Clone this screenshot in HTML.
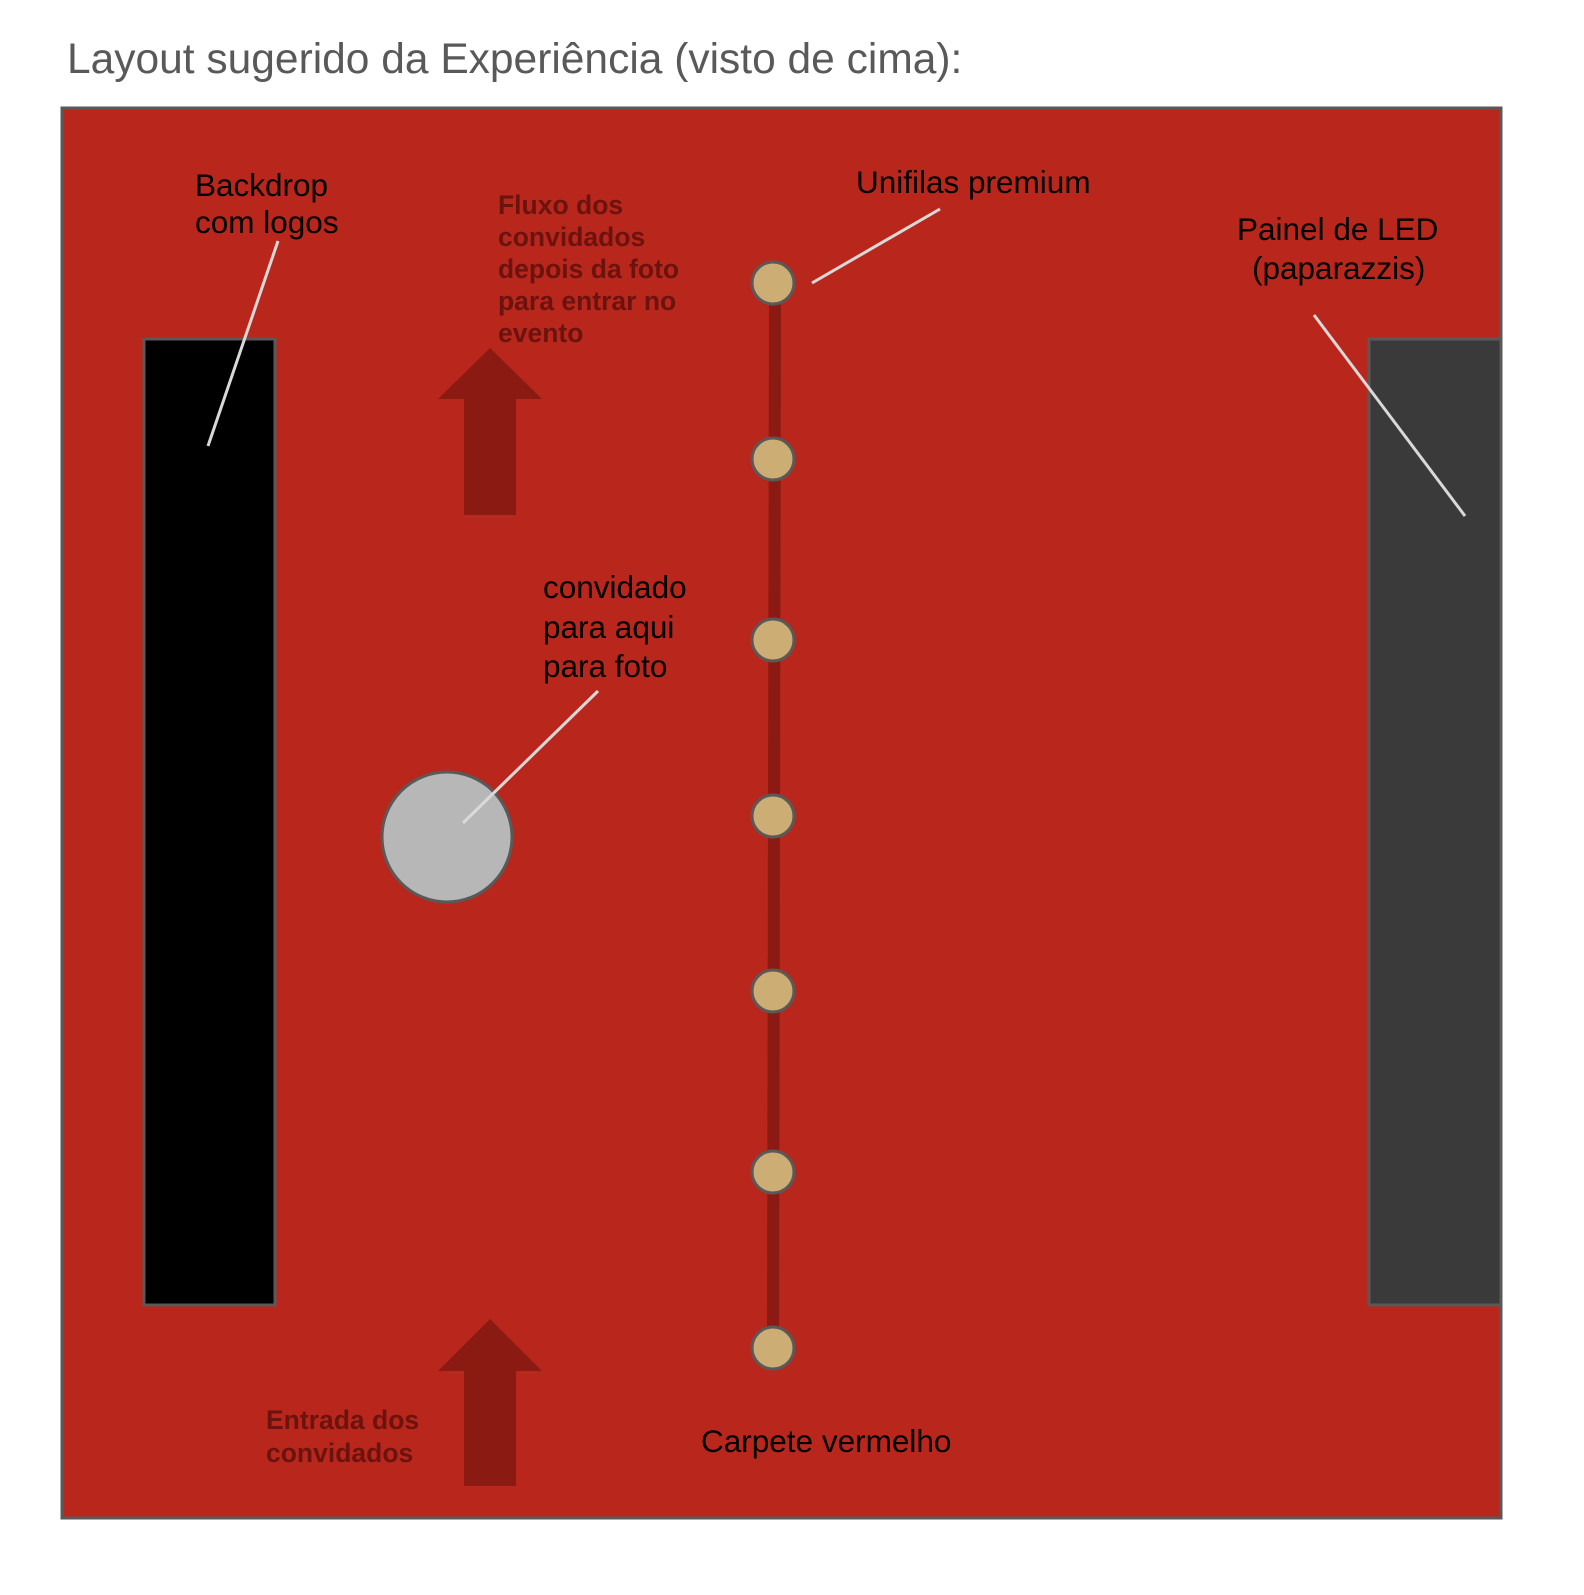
<!DOCTYPE html>
<html><head><meta charset="utf-8"><style>body{margin:0;background:#fff}</style></head><body>
<svg width="1584" height="1590" xmlns="http://www.w3.org/2000/svg" font-family="Liberation Sans, Arial, sans-serif">
<text x="67" y="73" font-size="42.5" fill="#595959">Layout sugerido da Experiência (visto de cima):</text>
<rect x="62" y="108" width="1439" height="1410" fill="#B9261C" stroke="#595959" stroke-width="3"/>
<rect x="144" y="339" width="131" height="966" fill="#000" stroke="#595959" stroke-width="3"/>
<rect x="1369" y="339" width="132" height="966" fill="#3a3a3a" stroke="#595959" stroke-width="3"/>
<line x1="775" y1="283" x2="773" y2="1348" stroke="#8B1A12" stroke-width="12"/>
<g fill="#CCAD74" stroke="#595959" stroke-width="3">
<circle cx="773" cy="283" r="21"/><circle cx="773" cy="459" r="21"/><circle cx="773" cy="640" r="21"/>
<circle cx="773" cy="816" r="21"/><circle cx="773" cy="991" r="21"/><circle cx="773" cy="1172" r="21"/>
<circle cx="773" cy="1348" r="21"/></g>
<polygon points="490,348 542,399 516,399 516,515 464,515 464,399 438,399" fill="#8B1A12"/>
<polygon points="490,1319 542,1371 516,1371 516,1486 464,1486 464,1371 438,1371" fill="#8B1A12"/>
<circle cx="447" cy="837" r="65" fill="#B7B7B7" stroke="#595959" stroke-width="3"/>
<g stroke="#D9D9D9" stroke-width="3">
<line x1="278" y1="241" x2="208" y2="446"/><line x1="940" y1="209" x2="812" y2="283"/>
<line x1="1314" y1="315" x2="1465" y2="516"/><line x1="598" y1="691" x2="463" y2="823"/></g>
<g font-size="31.5" fill="#000">
<text x="195" y="196">Backdrop</text><text x="195" y="233">com logos</text>
<text x="856" y="193">Unifilas premium</text>
<text x="1237" y="240">Painel de LED</text><text x="1252" y="279">(paparazzis)</text>
<text x="543" y="598">convidado</text><text x="543" y="638">para aqui</text><text x="543" y="677">para foto</text>
<text x="701" y="1452">Carpete vermelho</text></g>
<g font-size="26.5" font-weight="bold" fill="#6B130E">
<text x="498" y="214">Fluxo dos</text><text x="498" y="246">convidados</text><text x="498" y="278">depois da foto</text>
<text x="498" y="310">para entrar no</text><text x="498" y="342">evento</text>
<text x="266" y="1429">Entrada dos</text><text x="266" y="1462">convidados</text></g>
</svg>
</body></html>
